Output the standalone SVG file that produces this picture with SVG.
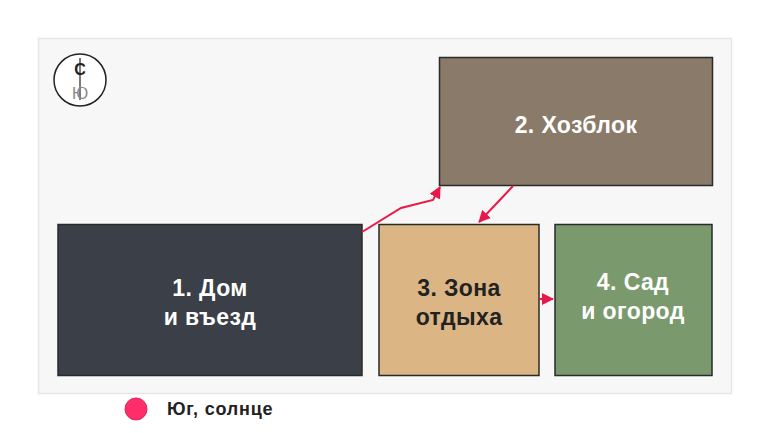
<svg xmlns="http://www.w3.org/2000/svg" width="770" height="433" viewBox="0 0 770 433">
<defs>
<style>
.lbl{font-family:"Liberation Sans",Arial,sans-serif;font-weight:bold;font-size:23px;letter-spacing:0.4px;text-anchor:middle}
.node{stroke:#2a2a2a;stroke-width:1.5}
.conn{fill:none;stroke:#e8194a;stroke-width:2}
</style>
<marker id="ah" markerWidth="12" markerHeight="12" refX="11" refY="6" orient="auto" markerUnits="userSpaceOnUse" viewBox="0 0 12 12">
<path d="M0,0 L12,6 L0,12 z" fill="#e8194a"/>
</marker>
</defs>
<rect width="770" height="433" fill="#ffffff"/>
<rect x="38.5" y="38.5" width="693" height="355" fill="#f7f7f7" stroke="#e6e6e6" stroke-width="1.5"/>
<g id="compass">
<circle cx="80" cy="80" r="26" fill="#ffffff" stroke="#222" stroke-width="1.5"/>
<line x1="80" y1="58" x2="80" y2="100" stroke="#222" stroke-width="1.2"/>
<text x="80" y="75" font-family="Liberation Sans,Arial,sans-serif" font-size="16" font-weight="bold" text-anchor="middle" fill="#222">С</text>
<text x="80" y="99" font-family="Liberation Sans,Arial,sans-serif" font-size="16" text-anchor="middle" fill="#888">Ю</text>
</g>
<g id="node1">
<rect class="node" x="58" y="224.5" width="304" height="151" fill="#3a3f48"/>
<text class="lbl" x="210" y="296" fill="#ffffff">1. Дом</text>
<text class="lbl" x="210" y="325" fill="#ffffff">и въезд</text>
</g>
<g id="node2">
<rect class="node" x="439.5" y="57.5" width="273" height="128" fill="#8a7a6a"/>
<text class="lbl" x="576" y="133" fill="#ffffff">2. Хозблок</text>
</g>
<g id="node3">
<rect class="node" x="379" y="224.5" width="160" height="151" fill="#dbb584"/>
<text class="lbl" x="459" y="296" fill="#222222">3. Зона</text>
<text class="lbl" x="459" y="325" fill="#222222">отдыха</text>
</g>
<g id="node4">
<rect class="node" x="555" y="224.5" width="157" height="151" fill="#7a9a6e"/>
<text class="lbl" x="633" y="290" fill="#ffffff">4. Сад</text>
<text class="lbl" x="633" y="319" fill="#ffffff">и огород</text>
</g>
<g id="connectors">
<polyline class="conn" points="362,232 401,208 433,200 440,187" marker-end="url(#ah)"/>
<line class="conn" x1="513" y1="186" x2="479" y2="222" marker-end="url(#ah)"/>
<line class="conn" x1="539" y1="299" x2="553" y2="299" marker-end="url(#ah)"/>
</g>
<g id="legend">
<circle cx="136" cy="409" r="11" fill="#ff2d6a" stroke="#e0245a" stroke-width="1"/>
<text x="167" y="415" font-family="Liberation Sans,Arial,sans-serif" font-weight="bold" font-size="18" letter-spacing="0.8" fill="#222">Юг, солнце</text>
</g>
</svg>
